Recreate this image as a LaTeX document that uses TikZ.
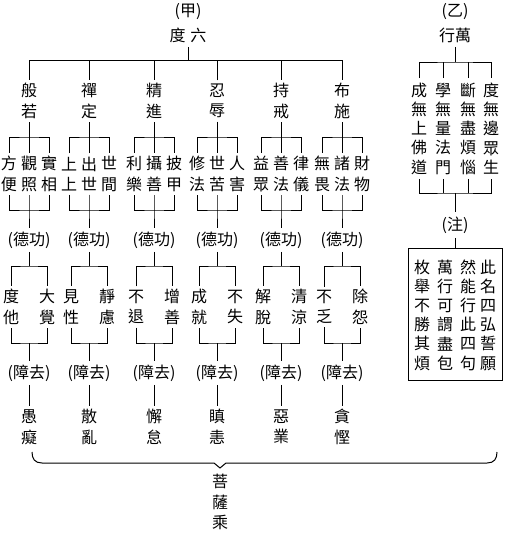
\documentclass[tikz,border=0pt]{standalone}
\usepackage{fontspec}
\setmainfont{Noto Sans CJK TC}
\newcommand{\Paramita}[9]{
  \node(#1)at(#2,101){#3};
  \node(#1a)at(#2-20,174){#4};
  \node(#1b)at(#2,174){#5};
  \node(#1c)at(#2+20,174){#6};
  \node(#1g)at(#2,240){(德功)};
  \node(#1l)at(#2-18,307){#7};
  \node(#1r)at(#2+18,307){#8};
  \node(#1z)at(#2,373){(障去)};
  \node(#1e)at(#2,427){#9};
  \coordinate(#1p)at(#2,137);
  \coordinate(#1q)at(#2,210);
  \coordinate(#1s)at(#2,266);
  \coordinate(#1u)at(#2,343);
  \draw(#1.north)--(#1|-top)(#1.south)--(#1p)(#1b.north)--(#1p)(#1a.north)|-(#1p)-|(#1c.north);
  \draw(#1a.south)|-(#1q)-|(#1c.south)(#1b.south)--(#1q)--(#1g.north);
  \draw(#1g.south)--(#1s)(#1l.north)|-(#1s)-|(#1r.north);
  \draw(#1l.south)|-(#1u)-|(#1r.south)(#1u)--(#1z.north)(#1z.south)--(#1e.north);
}

\begin{document}
\begin{tikzpicture}[x=1pt,y=-1pt,line width=1pt,font=\fontsize{16}{20.5}\selectfont,
  every node/.style={align=center,inner sep=4pt}]
  \useasboundingbox(0,0)rectangle(510,533);
  % (甲)
  \node(jia)at(188,12){(甲)};
  \node(liudu)at(188,35){度\hspace{5pt}六};
  \coordinate(top)at(188,60);
  \draw(liudu.south)--(top);
  \begin{scope}[every node/.append style={inner ysep=3pt}]
  \Paramita{bore}{29}{般\\若}{方\\便}{觀\\照}{實\\相}{度\\他}{大\\覺}{愚\\癡}
  \Paramita{chan}{89}{禪\\定}{上\\上}{出\\世}{世\\間}{見\\性}{靜\\慮}{散\\亂}
  \Paramita{jing}{154}{精\\進}{利\\樂}{攝\\善}{披\\甲}{不\\退}{增\\善}{懈\\怠}
  \Paramita{ren}{217}{忍\\辱}{修\\法}{世\\苦}{人\\害}{成\\就}{不\\失}{瞋\\恚}
  \Paramita{chi}{281}{持\\戒}{益\\眾}{善\\法}{律\\儀}{解\\脫}{清\\涼}{惡\\業}
  \Paramita{bu}{342}{布\\施}{無\\畏}{諸\\法}{財\\物}{不\\乏}{除\\怨}{貪\\慳}
  \end{scope}
  \draw(bore|-top)--(bu|-top);
  \draw(32,452)..controls(32,459)and(35,463)..(42,463)--(214,463)--(220,468)--(226,463)--(487,463)..controls(494,463)and(497,459)..(497,452);
  \node(pusa)at(220,502){菩\\薩\\乘};
  % (乙)
  \node(yi)at(455,12){(乙)};
  \node(wanxing)at(455,35){行萬};
  \coordinate(wtop)at(455,62);
  \coordinate(wbot)at(455,193);
  \begin{scope}[font=\fontsize{16}{19.25}\selectfont]
    \node(wa)at(419,128.5){成\\無\\上\\佛\\道};
    \node(wb)at(443,128.5){學\\無\\量\\法\\門};
    \node(wc)at(468,128.5){斷\\無\\盡\\煩\\惱};
    \node(wd)at(491,128.5){度\\無\\邊\\眾\\生};
  \end{scope}
  \node(zhu)at(455,225){(注)};
  \node[draw,minimum width=94pt,minimum height=132pt](note)at(455,314){};
  \draw(wanxing.south)--(wtop)(wa.north)|-(wtop)-|(wd.north)(wb.north)--(wb|-wtop)(wc.north)--(wc|-wtop);
  \draw(wa.south)|-(wbot)-|(wd.south)(wb.south)--(wb|-wbot)(wc.south)--(wc|-wbot)(wbot)--(zhu.north);
  \draw(zhu.south)--(note.north);
  \begin{scope}[font=\fontsize{16}{19.2}\selectfont]
    \node(na)at(422,315){枚\\舉\\不\\勝\\其\\煩};
    \node(nb)at(445,315){萬\\行\\可\\謂\\盡\\包};
    \node(nc)at(468,315){然\\能\\行\\此\\四\\句};
    \node(nd)at(488,315){此\\名\\四\\弘\\誓\\願};
  \end{scope}
\end{tikzpicture}
\end{document}
